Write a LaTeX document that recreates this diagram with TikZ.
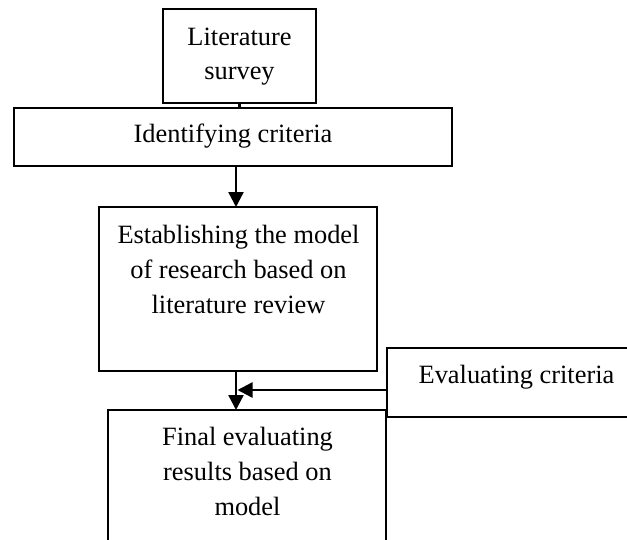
\documentclass[tikz,border=0pt]{standalone}
\usepackage{fontspec}
\setmainfont{Liberation Serif}
\usetikzlibrary{arrows.meta}
\begin{document}
\begin{tikzpicture}[x=1pt,y=-1pt,
  box/.style={draw, line width=1.8pt, inner sep=0pt, outer sep=0pt, anchor=north west},
  txt/.style={anchor=base, inner sep=0pt, font=\fontsize{26.4}{35}\selectfont},
  link/.style={line width=2.2pt},
  arr/.style={line width=2.4pt, -{Triangle[length=15pt,width=15pt]}}]
\useasboundingbox (0,0) rectangle (627,539);
\clip (0,0) rectangle (627,539);
\fill[white] (0,0) rectangle (627,539);
% boxes
\node[box, minimum width=153pt, minimum height=94pt] (lit) at (163,9) {};
\node[box, minimum width=438pt, minimum height=58pt] (ident) at (14,108) {};
\node[box, minimum width=278pt, minimum height=164pt] (est) at (99,207) {};
\node[box, minimum width=260pt, minimum height=69pt] (eval) at (387,348) {};
\node[box, minimum width=278pt, minimum height=160pt] (final) at (108,410) {};
% texts
\node[txt] (t1) at (239.5,45) {Literature};
\node[txt] (t2) at (239.5,79) {survey};
\node[txt] (t3) at (233,142) {Identifying criteria};
\node[txt] (t4) at (238.5,243) {Establishing the model};
\node[txt] (t5) at (238.5,278) {of research based on};
\node[txt] (t6) at (238.5,313) {literature review};
\node[txt] (t7) at (516.5,383) {Evaluating criteria};
\node[txt] (t8) at (247.5,445) {Final evaluating};
\node[txt] (t9) at (247.5,480) {results based on};
\node[txt] (t10) at (247.5,515) {model};
% connectors
\draw[link] (lit.south) -- (lit.south |- ident.north);
\draw[arr] ([xshift=3pt]ident.south) -- ([xshift=3pt]ident.south |- est.north);
\draw[arr] ([xshift=-2pt]est.south) -- ([xshift=-2pt]est.south |- final.north);
\coordinate (m) at (237.5,390);
\draw[arr] (eval.west |- m) -- (m);
\end{tikzpicture}
\end{document}
